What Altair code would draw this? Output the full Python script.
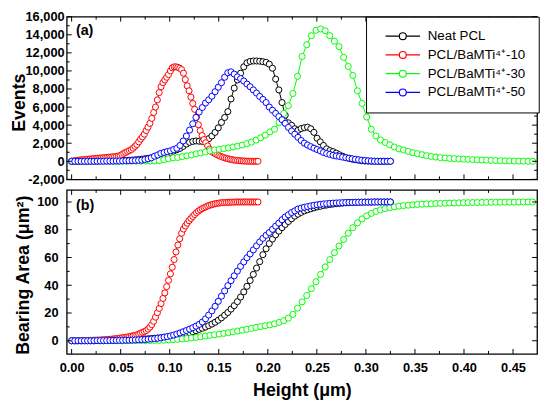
import altair as alt
import pandas as pd

SERIES = ["Neat PCL", "PCL/BaMTi⁴⁺-10", "PCL/BaMTi⁴⁺-30", "PCL/BaMTi⁴⁺-50"]
COLORS = ["#000000", "#FF0000", "#00FF00", "#0000FF"]

# x positions of the markers (Height, µm)
RED_X = [0, 0.0019, 0.0038, 0.0057, 0.0076, 0.0095, 0.0114, 0.0133, 0.0152, 0.0171,
         0.019, 0.0209, 0.0228, 0.0247, 0.0266, 0.0285, 0.0304, 0.0323, 0.0342, 0.0361,
         0.038, 0.0399, 0.0418, 0.0437, 0.0456, 0.0475, 0.0494, 0.0513, 0.0532, 0.0551,
         0.057, 0.0589, 0.0608, 0.0627, 0.0646, 0.0665, 0.0684, 0.0703, 0.0722, 0.0741,
         0.076, 0.0779, 0.0798, 0.0817, 0.0836, 0.0855, 0.0874, 0.0893, 0.0912, 0.0931,
         0.095, 0.0969, 0.0988, 0.1007, 0.1026, 0.1045, 0.1064, 0.1083, 0.1102, 0.1121,
         0.114, 0.1159, 0.1178, 0.1197, 0.1216, 0.1235, 0.1254, 0.1273, 0.1292, 0.1311,
         0.133, 0.1349, 0.1368, 0.1387, 0.1406, 0.1425, 0.1444, 0.1463, 0.1482, 0.1501,
         0.152, 0.1539, 0.1558, 0.1577, 0.1596, 0.1615, 0.1634, 0.1653, 0.1672, 0.1691,
         0.171, 0.1729, 0.1748, 0.1767, 0.1786, 0.1805, 0.1824, 0.1843, 0.1862, 0.1881,
         0.19]
BB_X = [0, 0.00325, 0.0065, 0.00975, 0.013, 0.01625, 0.0195, 0.02275, 0.026, 0.02925,
        0.0325, 0.03575, 0.039, 0.04225, 0.0455, 0.04875, 0.052, 0.05525, 0.0585, 0.06175,
        0.065, 0.06825, 0.0715, 0.07475, 0.078, 0.08125, 0.0845, 0.08775, 0.091, 0.09425,
        0.0975, 0.10075, 0.104, 0.10725, 0.1105, 0.11375, 0.117, 0.12025, 0.1235, 0.12675,
        0.13, 0.13325, 0.1365, 0.13975, 0.143, 0.14625, 0.1495, 0.15275, 0.156, 0.15925,
        0.1625, 0.16575, 0.169, 0.17225, 0.1755, 0.17875, 0.182, 0.18525, 0.1885, 0.19175,
        0.195, 0.19825, 0.2015, 0.20475, 0.208, 0.21125, 0.2145, 0.21775, 0.221, 0.22425,
        0.2275, 0.23075, 0.234, 0.23725, 0.2405, 0.24375, 0.247, 0.25025, 0.2535, 0.25675,
        0.26, 0.26325, 0.2665, 0.26975, 0.273, 0.27625, 0.2795, 0.28275, 0.286, 0.28925,
        0.2925, 0.29575, 0.299, 0.30225, 0.3055, 0.30875, 0.312, 0.31525, 0.3185, 0.32175,
        0.325]
GREEN_X = [0, 0.0047, 0.0094, 0.0141, 0.0188, 0.0235, 0.0282, 0.0329, 0.0376, 0.0423,
           0.047, 0.0517, 0.0564, 0.0611, 0.0658, 0.0705, 0.0752, 0.0799, 0.0846, 0.0893,
           0.094, 0.0987, 0.1034, 0.1081, 0.1128, 0.1175, 0.1222, 0.1269, 0.1316, 0.1363,
           0.141, 0.1457, 0.1504, 0.1551, 0.1598, 0.1645, 0.1692, 0.1739, 0.1786, 0.1833,
           0.188, 0.1927, 0.1974, 0.2021, 0.2068, 0.2115, 0.2162, 0.2209, 0.2256, 0.2303,
           0.235, 0.2397, 0.2444, 0.2491, 0.2538, 0.2585, 0.2632, 0.2679, 0.2726, 0.2773,
           0.282, 0.2867, 0.2914, 0.2961, 0.3008, 0.3055, 0.3102, 0.3149, 0.3196, 0.3243,
           0.329, 0.3337, 0.3384, 0.3431, 0.3478, 0.3525, 0.3572, 0.3619, 0.3666, 0.3713,
           0.376, 0.3807, 0.3854, 0.3901, 0.3948, 0.3995, 0.4042, 0.4089, 0.4136, 0.4183,
           0.423, 0.4277, 0.4324, 0.4371, 0.4418, 0.4465, 0.4512, 0.4559, 0.4606, 0.4653,
           0.47]

# panel (a): Events
BLACK_EVENTS = [0, 0, 0, 10, 10, 10, 20, 20, 20, 30,
                30, 40, 40, 50, 60, 70, 90, 100, 120, 140,
                170, 200, 240, 280, 330, 390, 460, 540, 630, 720,
                850, 980, 1130, 1280, 1430, 1650, 1900, 2100, 2200, 2250,
                2220, 2200, 2300, 2500, 2800, 3200, 3700, 4300, 4850, 5500,
                6900, 8100, 9000, 9750, 10450, 10900, 11050, 11100, 11100, 11080,
                11020, 10950, 10750, 10300, 9100, 7900, 6500, 5100, 4250, 3980,
                3600, 3430, 3620, 3720, 3780, 3600, 3200, 2550, 2150, 1750,
                1380, 1180, 1070, 900, 720, 560, 400, 320, 240, 180,
                120, 60, 30, 20, 10, 0, 0, 0, 0, 0,
                0]
RED_EVENTS = [0, 40, 70, 100, 130, 150, 170, 190, 210, 230,
              250, 270, 290, 310, 330, 350, 370, 390, 410, 430,
              450, 470, 490, 510, 540, 570, 630, 750, 880, 980,
              1080, 1180, 1290, 1450, 1650, 1850, 2150, 2450, 2700, 3000,
              3400, 3780, 4200, 4750, 5400, 6000, 6800, 7600, 8250, 8700,
              9000, 9300, 9600, 10000, 10350, 10450, 10450, 10400, 10300, 10150,
              9750, 9050, 8350, 7800, 7100, 6400, 5750, 4900, 4050, 3400,
              2850, 2400, 2050, 1700, 1350, 1120, 960, 840, 730, 630,
              540, 460, 390, 330, 270, 220, 180, 140, 110, 90,
              70, 50, 35, 25, 15, 10, 5, 0, 0, 0,
              0]
GREEN_EVENTS = [0, 0, 0, 0, 0, 0, 0, 0, 10, 10,
                10, 10, 20, 20, 20, 20, 30, 30, 40, 80,
                160, 280, 380, 420, 520, 600, 700, 820, 920, 1020,
                1150, 1250, 1330, 1400, 1480, 1580, 1680, 1800, 1950, 2120,
                2350, 2600, 2900, 3250, 3550, 4300, 5300, 6150, 7500, 9400,
                11600, 12900, 13900, 14500, 14650, 14450, 13900, 13300, 12700, 11500,
                10500, 9500, 7800, 6400, 4900, 3550, 2800, 2350, 2080, 1830,
                1580, 1380, 1250, 1100, 950, 840, 730, 620, 540, 470,
                400, 360, 320, 290, 260, 230, 210, 180, 160, 140,
                120, 100, 80, 60, 50, 40, 30, 20, 10, 0,
                0]
BLUE_EVENTS = [0, 0, 0, 0, 0, 0, 0, 0, 10, 10,
               10, 20, 20, 20, 30, 30, 40, 50, 60, 70,
               80, 100, 130, 200, 280, 380, 560, 700, 880, 980,
               1080, 1160, 1300, 1440, 1750, 2250, 2800, 3450, 4150, 4850,
               5450, 5950, 6450, 6800, 7200, 7700, 8200, 8700, 9300, 9800,
               9900, 9650, 9350, 9150, 8880, 8550, 8250, 7900, 7550, 7180,
               6850, 6500, 6000, 5650, 5300, 4950, 4600, 4200, 3750, 3350,
               3000, 2650, 2300, 2000, 1800, 1620, 1450, 1300, 1150, 980,
               860, 760, 660, 590, 530, 460, 400, 340, 280, 220,
               170, 120, 80, 50, 30, 10, 0, 0, 0, 0,
               0]

# panel (b): Bearing Area
BLACK_AREA = [0, 0, 0, 0, 0, 0, 0, 0, 0.1, 0.1,
              0.1, 0.2, 0.2, 0.3, 0.3, 0.4, 0.5, 0.6, 0.7, 0.8,
              0.9, 1.0, 1.1, 1.3, 1.4, 1.6, 1.8, 2.0, 2.2, 2.5,
              2.7, 3.0, 3.3, 3.7, 4.1, 4.6, 5.2, 5.8, 6.5, 7.3,
              8.2, 9.0, 9.9, 10.9, 12.0, 13.3, 14.8, 16.5, 18.4, 20.4,
              22.8, 25.3, 28.2, 31.5, 35.2, 39.2, 43.4, 47.8, 52.4, 57.0,
              62.0, 66.3, 70.0, 73.3, 76.3, 79.0, 81.5, 83.8, 85.9, 87.9,
              89.8, 91.2, 92.5, 93.6, 94.4, 95.1, 95.8, 96.4, 96.9, 97.4,
              97.8, 98.2, 98.5, 98.8, 99.0, 99.2, 99.4, 99.5, 99.6, 99.7,
              99.8, 99.8, 99.9, 99.9, 99.9, 100, 100, 100, 100, 100,
              100]
RED_AREA = [0, 0, 0, 0, 0.1, 0.1, 0.1, 0.2, 0.2, 0.2,
            0.3, 0.3, 0.4, 0.4, 0.5, 0.5, 0.6, 0.7, 0.8, 0.9,
            1.0, 1.1, 1.2, 1.4, 1.5, 1.7, 1.9, 2.1, 2.3, 2.5,
            2.7, 3.0, 3.3, 3.6, 3.9, 4.3, 4.8, 5.4, 6.0, 6.6,
            7.3, 8.4, 9.8, 11.6, 14.0, 17.0, 20.2, 23.3, 26.8, 30.5,
            34.5, 39.0, 43.5, 48.2, 53.0, 58.5, 64.0, 69.0, 73.5, 77.5,
            80.5, 82.7, 84.7, 86.5, 88.1, 89.6, 91.0, 92.3, 93.4, 94.4,
            95.2, 95.9, 96.5, 97.1, 97.6, 98.0, 98.4, 98.7, 99.0, 99.2,
            99.4, 99.5, 99.6, 99.7, 99.8, 99.8, 99.9, 99.9, 100, 100,
            100, 100, 100, 100, 100, 100, 100, 100, 100, 100,
            100]
GREEN_AREA = [0, 0, 0, 0, 0, 0, 0, 0, 0, 0,
              0, 0, 0.1, 0.1, 0.1, 0.1, 0.1, 0.2, 0.2, 0.3,
              0.4, 0.6, 0.8, 1.0, 1.3, 1.6, 2.0, 2.4, 2.9, 3.4,
              3.9, 4.3, 4.8, 5.3, 5.8, 6.4, 7.0, 7.6, 8.3, 8.9,
              9.6, 10.2, 10.8, 11.4, 12.2, 13.2, 14.5, 16.3, 19.0, 23.5,
              28.0, 32.6, 37.5, 42.5, 47.8, 53.2, 58.5, 63.5, 68.3, 73.0,
              77.5, 81.5, 85.0, 87.8, 90.0, 91.8, 93.2, 94.3, 95.2, 95.9,
              96.5, 97.0, 97.4, 97.7, 98.0, 98.2, 98.4, 98.6, 98.7, 98.9,
              99.0, 99.1, 99.2, 99.3, 99.4, 99.5, 99.5, 99.6, 99.6, 99.7,
              99.7, 99.8, 99.8, 99.8, 99.9, 99.9, 99.9, 100, 100, 100,
              100]
BLUE_AREA = [0, 0, 0, 0, 0, 0, 0, 0, 0.1, 0.1,
             0.1, 0.1, 0.2, 0.2, 0.2, 0.3, 0.3, 0.4, 0.4, 0.5,
             0.6, 0.7, 0.8, 0.9, 1.1, 1.3, 1.5, 1.8, 2.1, 2.6,
             3.0, 3.5, 4.1, 4.8, 5.6, 6.5, 7.4, 8.4, 9.4, 10.5,
             11.8, 13.5, 15.8, 18.5, 21.5, 24.8, 28.4, 32.1, 35.9, 39.7,
             43.3, 46.8, 50.2, 53.6, 56.8, 59.8, 62.6, 65.5, 68.4, 71.2,
             73.8, 76.0, 78.0, 80.3, 82.6, 84.8, 87.2, 89.2, 90.8, 92.4,
             93.6, 94.9, 95.6, 96.2, 96.7, 97.2, 97.6, 98.0, 98.3, 98.6,
             98.8, 99.0, 99.2, 99.3, 99.4, 99.5, 99.6, 99.7, 99.7, 99.8,
             99.8, 99.9, 99.9, 99.9, 100, 100, 100, 100, 100, 100,
             100]

X_MAJOR = [0.0, 0.05, 0.1, 0.15, 0.2, 0.25, 0.3, 0.35, 0.4, 0.45]
X_MINOR = [0.025, 0.075, 0.125, 0.175, 0.225, 0.275, 0.325, 0.375, 0.425]
EV_MAJOR = [-2000, 0, 2000, 4000, 6000, 8000, 10000, 12000, 14000, 16000]
EV_MINOR = [-1000, 1000, 3000, 5000, 7000, 9000, 11000, 13000, 15000]
BA_MAJOR = [0, 20, 40, 60, 80, 100]
BA_MINOR = [10, 30, 50, 70, 90]
PANEL_LABELS = ["(a)", "(b)"]

FONT = "Liberation Sans"
W, H1, H2 = 476.6, 164.8, 166.2

x_scale = alt.Scale(domain=[-0.005, 0.4745], nice=False, zero=False)
ev_scale = alt.Scale(domain=[-2000, 16000], nice=False, zero=False)
ba_scale = alt.Scale(domain=[-9.5, 108.7], nice=False, zero=False)
stroke_scale = alt.Scale(domain=SERIES, range=COLORS)


def build(values):
    xs_lists = [BB_X, RED_X, GREEN_X, BB_X]
    frames = []
    for k, (name, xv, yv) in enumerate(zip(SERIES, xs_lists, values)):
        assert len(xv) == len(yv), (name, len(xv), len(yv))
        frames.append(pd.DataFrame({"series": name, "x": xv, "y": yv, "k": k}))
    return pd.concat(frames, ignore_index=True)


events_df = build([BLACK_EVENTS, RED_EVENTS, GREEN_EVENTS, BLUE_EVENTS])
area_df = build([BLACK_AREA, RED_AREA, GREEN_AREA, BLUE_AREA])

# legend glyph: a short line with a hollow circle in the middle
LEGEND_PATH = ("M0,0L4,0M6,0L10,0"
               "M6,0C6,0.5523,5.5523,1,5,1C4.4477,1,4,0.5523,4,0"
               "C4,-0.5523,4.4477,-1,5,-1C5.5523,-1,6,-0.5523,6,0Z")
legend = alt.Legend(
    title=None, orient="none", legendX=303.3, legendY=0,
    symbolType=LEGEND_PATH, symbolSize=49, symbolStrokeWidth=1.2,
    symbolFillColor="white",
    labelFont=FONT, labelFontSize=13.5, labelColor="black",
    padding=13, rowPadding=4, labelOffset=36, labelLimit=0,
    fillColor="white", strokeColor="black",
)


def tick_layers(y_scale, y_axis, x_axis, y_major, y_minor, h):
    layers = []
    for vals, ln in [(X_MAJOR, 5), (X_MINOR, 3)]:
        base = alt.Chart(pd.DataFrame({"v": vals})).mark_rule(color="black", strokeWidth=1)
        xe = alt.X("v:Q", scale=x_scale, axis=x_axis)
        layers.append(base.encode(x=xe, y=alt.value(h), y2=alt.value(h - ln)))
        layers.append(base.encode(x=xe, y=alt.value(0), y2=alt.value(ln)))
    for vals, ln in [(y_major, 5), (y_minor, 3)]:
        base = alt.Chart(pd.DataFrame({"v": vals})).mark_rule(color="black", strokeWidth=1)
        ye = alt.Y("v:Q", scale=y_scale, axis=y_axis)
        layers.append(base.encode(y=ye, x=alt.value(0), x2=alt.value(ln)))
        layers.append(base.encode(y=ye, x=alt.value(W), x2=alt.value(W - ln)))
    return layers


def panel(df, y_scale, y_axis, x_axis, y_major, y_minor, h, label, label_y):
    x_enc = alt.X("x:Q", scale=x_scale, axis=x_axis)
    y_enc = alt.Y("y:Q", scale=y_scale, axis=y_axis)
    lines = alt.Chart(df).mark_line(strokeWidth=1).encode(
        x=x_enc, y=y_enc,
        stroke=alt.Stroke("series:N", scale=stroke_scale, legend=legend),
        detail="series:N",
    )
    pts = alt.Chart(df).mark_point(
        shape="circle", filled=True, fill="white", size=38, strokeWidth=1, opacity=1
    ).encode(
        x=x_enc, y=y_enc,
        stroke=alt.Stroke("series:N", scale=stroke_scale, legend=legend),
    )
    txt = alt.Chart(pd.DataFrame({"t": [label]})).mark_text(
        align="left", baseline="middle", font=FONT, fontSize=14.5,
        fontWeight="bold", color="black"
    ).encode(text="t:N", x=alt.value(9.3), y=alt.value(label_y))
    return alt.layer(
        lines, pts, *tick_layers(y_scale, y_axis, x_axis, y_major, y_minor, h), txt
    ).properties(width=W, height=h)


ev_axis = alt.Axis(
    values=EV_MAJOR,
    labelExpr="datum.value < 0 ? '-' + format(-datum.value, ',') : format(datum.value, ',')",
    title="Events", titleX=-43.2, titleY=86.6, titleBaseline="alphabetic",
    labelPadding=2.6,
)
ba_axis = alt.Axis(
    values=BA_MAJOR, format="d",
    title="Bearing Area (μm²)", titleX=-38.7, titleY=86, titleBaseline="alphabetic",
    labelPadding=8.7,
)
x_axis = alt.Axis(
    values=X_MAJOR, format=".2f", title="Height (μm)",
    labelPadding=8.2, titlePadding=7.2, labelFlush=False,
)

top = panel(events_df, ev_scale, ev_axis, None, EV_MAJOR, EV_MINOR, H1,
            PANEL_LABELS[0], 14.4)
bottom = panel(area_df, ba_scale, ba_axis, x_axis, BA_MAJOR, BA_MINOR, H2,
               PANEL_LABELS[1], 15.9)

chart = alt.vconcat(top, bottom, spacing=10.5, bounds="flush").properties(
    padding={"left": 1.5, "top": -0.8, "right": 2, "bottom": 2}
).configure_view(
    stroke="black", strokeWidth=1.3
).configure_axis(
    grid=False, ticks=False, domain=False, tickSize=0,
    labelFont=FONT, titleFont=FONT, labelFontWeight="bold", titleFontWeight="bold",
    labelColor="black", titleColor="black", labelFontSize=13, titleFontSize=18,
)

chart.save("out.html", embed_options={"renderer": "svg", "actions": False})
